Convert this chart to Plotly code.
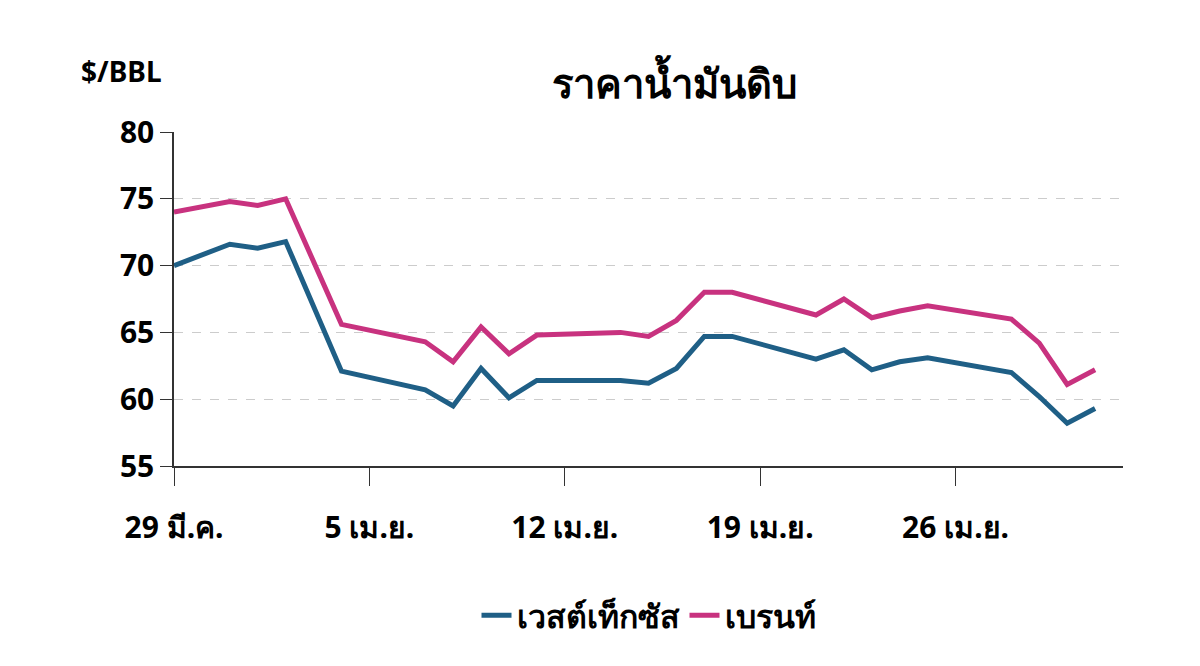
import plotly.graph_objects as go

dates = ["2021-03-29", "2021-03-31", "2021-04-01", "2021-04-02", "2021-04-04",
         "2021-04-07", "2021-04-08", "2021-04-09", "2021-04-10", "2021-04-11",
         "2021-04-14", "2021-04-15", "2021-04-16", "2021-04-17", "2021-04-18",
         "2021-04-21", "2021-04-22", "2021-04-23", "2021-04-24", "2021-04-25",
         "2021-04-28", "2021-04-29", "2021-04-30", "2021-05-01"]
wti = [70.0, 71.6, 71.3, 71.8, 62.1, 60.7, 59.5, 62.3, 60.1, 61.4, 61.4, 61.2,
       62.3, 64.7, 64.7, 63.0, 63.7, 62.2, 62.8, 63.1, 62.0, 60.2, 58.2, 59.3]
brent = [74.0, 74.8, 74.5, 75.0, 65.6, 64.3, 62.8, 65.4, 63.4, 64.8, 65.0, 64.7,
         65.9, 68.0, 68.0, 66.3, 67.5, 66.1, 66.6, 67.0, 66.0, 64.2, 61.1, 62.2]
tick_vals = ["2021-03-29", "2021-04-05", "2021-04-12", "2021-04-19", "2021-04-26"]
tick_text = ["29 มี.ค.", "5 เม.ย.", "12 เม.ย.", "19 เม.ย.", "26 เม.ย."]
y_ticks = [55, 60, 65, 70, 75, 80]

font = "Noto Sans, DejaVu Sans, sans-serif"

fig = go.Figure()
fig.add_trace(go.Scatter(x=dates, y=wti, name="<b>เวสต์เท็กซัส</b>", mode="lines",
                         line=dict(color="#1f5f86", width=5)))
fig.add_trace(go.Scatter(x=dates, y=brent, name="<b>เบรนท์</b>", mode="lines",
                         line=dict(color="#c8327f", width=5)))

fig.update_layout(
    width=1200, height=666,
    plot_bgcolor="white", paper_bgcolor="white",
    margin=dict(l=166, r=85, t=124, b=208, autoexpand=False),
    font=dict(family=font, size=26, color="black"),
    title=dict(text="<b>ราคาน้ำมันดิบ</b>", x=0.555, xanchor="center", y=0.865,
               yanchor="bottom", font=dict(size=40)),
    legend=dict(orientation="h", x=0.5, xanchor="center", y=-0.53, yanchor="bottom",
                font=dict(size=32)),
    annotations=[dict(text="<b>$/BBL</b>", xref="paper", yref="paper", x=-0.1, y=1.12,
                      xanchor="left", yanchor="bottom", showarrow=False,
                      font=dict(size=28))],
)
fig.update_xaxes(range=["2021-03-29", "2021-05-02"], tickvals=tick_vals,
                 ticktext=["<b>%s</b>" % t for t in tick_text],
                 showline=True, linecolor="#333333", linewidth=1.5, ticks="outside",
                 ticklen=18, tickcolor="#333333", showgrid=False,
                 tickfont=dict(size=30, family=font), ticklabelstandoff=16)
fig.update_yaxes(range=[55, 80], tickvals=y_ticks, ticktext=["<b>%d</b>" % v for v in y_ticks],
                 showline=True, linecolor="#333333", linewidth=1.5,
                 gridcolor="#cccccc", griddash="dash", ticks="outside", ticklen=12,
                 tickcolor="#333333", tickfont=dict(size=30, family=font), zeroline=False)

fig.write_html("out.html")
